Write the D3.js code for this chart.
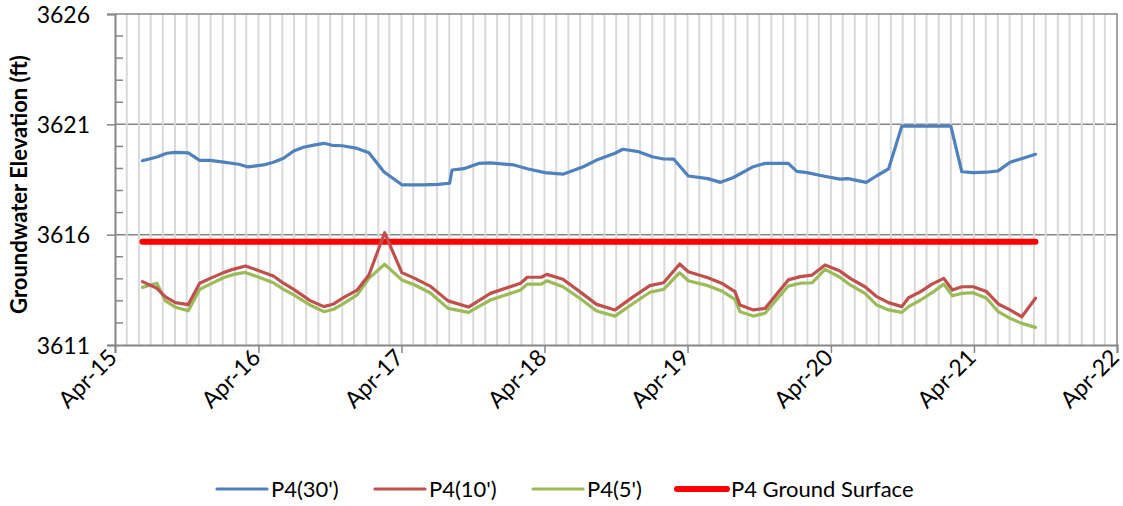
<!DOCTYPE html>
<html>
<head>
<meta charset="utf-8">
<script src="https://cdn.jsdelivr.net/npm/d3@7"></script>
<style>
  body { margin: 0; background: #fff; }
  text { font-family: Lato, "Open Sans", sans-serif; fill: #000; }
</style>
</head>
<body>
<svg id="svg" width="1123" height="506"></svg>
<script>
// DATA
var shallowDates = ["2015-06-10","2015-07-17","2015-08-07","2015-09-02","2015-10-05","2015-11-03","2015-11-30",
  "2016-01-03","2016-01-29","2016-02-28","2016-03-28","2016-05-09","2016-06-04","2016-06-30","2016-08-11","2016-09-15","2016-10-10","2016-11-05","2016-12-09",
  "2017-01-08","2017-02-17","2017-04-02","2017-05-05","2017-06-13","2017-07-29","2017-09-19","2017-11-14",
  "2018-01-30","2018-02-16","2018-03-24","2018-04-07","2018-05-18","2018-06-30","2018-08-12","2018-09-28","2018-11-14","2018-12-26",
  "2019-01-30","2019-03-12","2019-04-03","2019-05-23","2019-06-27","2019-07-31","2019-08-13","2019-09-16","2019-10-16","2019-12-14",
  "2020-01-14","2020-02-13","2020-03-17","2020-04-24","2020-05-20","2020-06-27","2020-07-27","2020-08-26","2020-09-29","2020-10-16","2020-11-16","2020-12-15",
  "2021-01-14","2021-02-05","2021-03-01","2021-03-30","2021-05-03","2021-06-02","2021-07-02","2021-08-01","2021-09-05"];

var p10 = [3613.87, 3613.57, 3613.19, 3612.92, 3612.83, 3613.80, 3614.02,
  3614.28, 3614.44, 3614.58, 3614.40, 3614.13, 3613.80, 3613.52, 3613.01, 3612.74, 3612.86, 3613.16, 3613.49,
  3614.17, 3616.09, 3614.28, 3614.02, 3613.67, 3613.00, 3612.72, 3613.34,
  3613.80, 3614.07, 3614.07, 3614.20, 3613.98, 3613.42, 3612.84, 3612.59, 3613.19, 3613.69,
  3613.82, 3614.67, 3614.32, 3614.05, 3613.80, 3613.42, 3612.81, 3612.59, 3612.66, 3613.95,
  3614.10, 3614.17, 3614.63, 3614.35, 3614.02, 3613.64, 3613.19, 3612.92, 3612.74, 3613.14, 3613.42, 3613.76,
  3614.02, 3613.49, 3613.64, 3613.64, 3613.42, 3612.86, 3612.59, 3612.28, 3613.12];

var p5 = [3613.61, 3613.80, 3613.01, 3612.71, 3612.55, 3613.52, 3613.76,
  3614.05, 3614.20, 3614.29, 3614.10, 3613.82, 3613.52, 3613.27, 3612.81, 3612.51, 3612.62, 3612.89, 3613.27,
  3614.02, 3614.66, 3613.95, 3613.72, 3613.37, 3612.66, 3612.48, 3613.04,
  3613.49, 3613.76, 3613.76, 3613.91, 3613.64, 3613.12, 3612.54, 3612.31, 3612.89, 3613.39,
  3613.52, 3614.28, 3613.91, 3613.69, 3613.45, 3613.07, 3612.51, 3612.31, 3612.44, 3613.67,
  3613.80, 3613.82, 3614.43, 3614.07, 3613.72, 3613.34, 3612.81, 3612.59, 3612.48, 3612.74, 3613.04, 3613.37,
  3613.76, 3613.23, 3613.34, 3613.37, 3613.12, 3612.51, 3612.21, 3611.98, 3611.80];

var deepDates = ["2015-06-10","2015-07-17","2015-08-11","2015-09-02","2015-10-05","2015-11-03","2015-11-30",
  "2016-01-03","2016-02-11","2016-03-06","2016-04-14","2016-05-09","2016-06-04","2016-06-30","2016-07-25","2016-08-20","2016-09-15","2016-10-06","2016-11-01","2016-12-09",
  "2017-01-08","2017-02-15","2017-04-02","2017-05-26","2017-07-04","2017-08-02","2017-08-08","2017-09-07","2017-10-15","2017-11-14",
  "2018-01-13","2018-02-16","2018-04-02","2018-05-18","2018-07-09","2018-08-12","2018-09-28","2018-10-18","2018-11-27",
  "2019-01-01","2019-01-30","2019-02-25","2019-04-03","2019-05-23","2019-06-24","2019-07-26","2019-09-16","2019-10-16","2019-12-14",
  "2020-01-05","2020-01-31","2020-03-12","2020-04-24","2020-05-15","2020-06-30","2020-07-27","2020-08-26","2020-09-29",
  "2021-02-01","2021-03-01","2021-03-30","2021-05-03","2021-06-02","2021-07-02","2021-07-27","2021-09-05"];

var p30 = [3619.35, 3619.52, 3619.69, 3619.73, 3619.71, 3619.37, 3619.37,
  3619.29, 3619.19, 3619.07, 3619.16, 3619.28, 3619.46, 3619.79, 3619.96, 3620.06, 3620.14, 3620.05, 3620.03, 3619.91,
  3619.71, 3618.85, 3618.26, 3618.26, 3618.28, 3618.33, 3618.93, 3618.99, 3619.23, 3619.25,
  3619.16, 3618.99, 3618.81, 3618.74, 3619.08, 3619.38, 3619.69, 3619.87, 3619.76,
  3619.53, 3619.43, 3619.42, 3618.66, 3618.54, 3618.37, 3618.58, 3619.08, 3619.23, 3619.23,
  3618.87, 3618.81, 3618.66, 3618.52, 3618.54, 3618.37, 3618.67, 3618.98, 3620.92,
  3620.92, 3618.85, 3618.81, 3618.83, 3618.89, 3619.28, 3619.42, 3619.64];

var groundDates = ["2015-06-10", "2021-09-05"];
var groundSurface = [3615.68, 3615.68];

var yTicks = [3611, 3616, 3621, 3626];
var xTickYears = ["2015-04-01","2016-04-01","2017-04-01","2018-04-01","2019-04-01","2020-04-01","2021-04-01","2022-04-01"];

// SETUP
var parse = d3.timeParse("%Y-%m-%d");
var svg = d3.select("#svg"),
  margin = { top: 14, right: 6, bottom: 161, left: 115 },
  width = 1123 - margin.left - margin.right,
  height = 506 - margin.top - margin.bottom;

var x = d3.scaleTime()
  .domain([parse("2015-04-01"), parse("2022-04-01")])
  .range([0, width]);
var y = d3.scaleLinear()
  .domain([3611, 3626])
  .range([height, 0]);

var g = svg.append("g")
  .attr("transform", "translate(" + margin.left + "," + margin.top + ")");

var axisColor = "#868686";

// major horizontal gridlines
g.selectAll(".hgrid")
  .data(yTicks.slice(1, 3))
  .enter().append("line")
  .attr("x1", 0).attr("x2", width)
  .attr("y1", function(d) { return y(d); })
  .attr("y2", function(d) { return y(d); })
  .attr("stroke", axisColor)
  .attr("stroke-width", 1.5);

// monthly minor vertical gridlines
var months = d3.timeMonth.range(parse("2015-05-01"), parse("2022-04-01"));
g.selectAll(".vgrid")
  .data(months)
  .enter().append("line")
  .attr("x1", function(d) { return x(d); })
  .attr("x2", function(d) { return x(d); })
  .attr("y1", 0).attr("y2", height)
  .attr("stroke", "#d9d9d9")
  .attr("stroke-width", 2);

// plot border (top, right)
g.append("path")
  .attr("d", "M0,0H" + width + "V" + height)
  .attr("fill", "none")
  .attr("stroke", axisColor)
  .attr("stroke-width", 1.5);

// y axis
var yAxis = g.append("g")
  .call(d3.axisLeft(y).tickValues(yTicks).tickSize(8).tickPadding(17).tickFormat(d3.format("d")));
yAxis.select(".domain").attr("stroke", axisColor).attr("stroke-width", 2);
yAxis.selectAll(".tick line").attr("stroke", axisColor).attr("stroke-width", 1.5);
yAxis.selectAll(".tick text").style("font-size", "23px").attr("dy", "0.36em");

// minor y ticks (inside)
var minorY = d3.range(3612, 3626).filter(function(d) { return yTicks.indexOf(d) < 0; });
g.selectAll(".minorY")
  .data(minorY)
  .enter().append("line")
  .attr("x1", 0).attr("x2", 8)
  .attr("y1", function(d) { return y(d); })
  .attr("y2", function(d) { return y(d); })
  .attr("stroke", axisColor)
  .attr("stroke-width", 1.5);

// x axis
var xAxis = g.append("g")
  .attr("transform", "translate(0," + height + ")")
  .call(d3.axisBottom(x).tickValues(xTickYears.map(parse)).tickSize(8).tickFormat(d3.timeFormat("%b-%y")));
xAxis.select(".domain").attr("stroke", axisColor).attr("stroke-width", 2);
xAxis.selectAll(".tick line").attr("stroke", axisColor).attr("stroke-width", 1.5);
xAxis.selectAll(".tick text")
  .style("font-size", "23px")
  .attr("text-anchor", "end")
  .attr("y", 0).attr("dy", 0)
  .attr("transform", "translate(3,14) rotate(-45)");

// y axis title
g.append("text")
  .attr("transform", "translate(-88," + (height / 2 + 5) + ") rotate(-90)")
  .attr("text-anchor", "middle")
  .style("font-size", "22px")
  .style("font-weight", "bold")
  .text("Groundwater Elevation (ft)");

// LINES
function series(dates, values) {
  return dates.map(function(d, i) { return { date: parse(d), value: values[i] }; });
}
var line = d3.line()
  .x(function(d) { return x(d.date); })
  .y(function(d) { return y(d.value); });

var allSeries = [
  { name: "P4(30')", data: series(deepDates, p30), color: "#4F81BD", w: 3.2 },
  { name: "P4(10')", data: series(shallowDates, p10), color: "#C0504D", w: 3.2 },
  { name: "P4(5')", data: series(shallowDates, p5), color: "#9BBB59", w: 3.2 },
  { name: "P4 Ground Surface", data: series(groundDates, groundSurface), color: "#FF0000", w: 6 }
];

// draw order so ground surface sits under P4(10') spike like the picture
[0, 2, 3, 1].forEach(function(i) {
  var s = allSeries[i];
  g.append("path")
    .datum(s.data)
    .attr("class", "line")
    .attr("fill", "none")
    .attr("stroke", s.color)
    .attr("stroke-width", s.w)
    .attr("stroke-linejoin", "round")
    .attr("stroke-linecap", "round")
    .attr("d", line);
});

// LEGEND
var legendX = [217, 375, 533, 677];
var legend = svg.append("g").attr("transform", "translate(0,489)");
allSeries.forEach(function(s, i) {
  legend.append("line")
    .attr("x1", legendX[i]).attr("x2", legendX[i] + 50)
    .attr("stroke", s.color)
    .attr("stroke-width", s.w)
    .attr("stroke-linecap", "round");
  legend.append("text")
    .attr("x", legendX[i] + 54)
    .attr("dy", "0.36em")
    .style("font-size", "22px")
    .text(s.name);
});
</script>
</body>
</html>
